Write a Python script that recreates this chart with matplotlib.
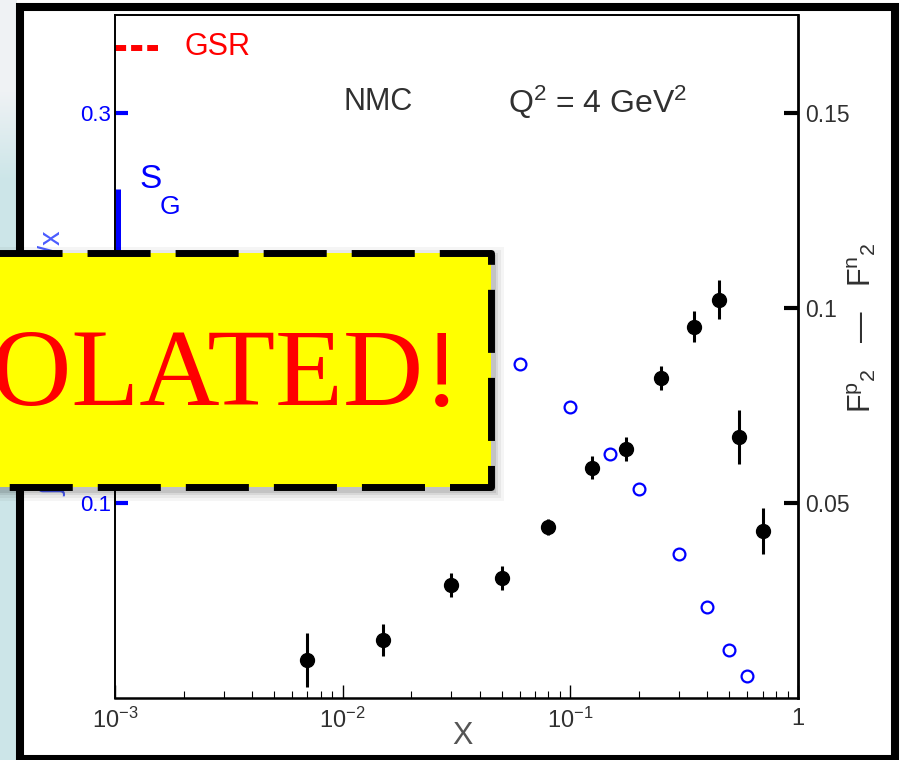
import numpy as np
import matplotlib
matplotlib.use("Agg")
import matplotlib.pyplot as plt
from matplotlib.patches import Rectangle
from matplotlib.lines import Line2D
from matplotlib.ticker import FixedLocator, FixedFormatter, LogLocator, NullFormatter

plt.rcParams['font.family'] = ['Liberation Sans', 'DejaVu Sans']
plt.rcParams['mathtext.fontset'] = 'custom'
plt.rcParams['mathtext.rm'] = 'Liberation Sans'
plt.rcParams['mathtext.it'] = 'Liberation Sans:italic'
plt.rcParams['mathtext.bf'] = 'Liberation Sans:bold'
plt.rcParams['lines.scale_dashes'] = False

# NMC F2p - F2n at Q^2 = 4 GeV^2
x_nmc = [0.007, 0.015, 0.030, 0.050, 0.080, 0.125, 0.175, 0.25, 0.35, 0.45, 0.55, 0.70]
d_f2 = [0.0097, 0.0149, 0.0290, 0.0308, 0.0438, 0.0590, 0.0638, 0.0820, 0.0951, 0.1020, 0.0669, 0.0428]
d_f2_err = [0.0069, 0.0041, 0.0030, 0.0030, 0.0020, 0.0030, 0.0030, 0.0030, 0.0040, 0.0050, 0.0070, 0.0060]

# integral of (F2p - F2n)/x from x to 1
x_int = [0.06, 0.10, 0.15, 0.20, 0.30, 0.40, 0.50, 0.60]
s_int = [0.171, 0.149, 0.125, 0.107, 0.0738, 0.0467, 0.0246, 0.0113]

gsr = 1.0 / 3.0
s_g, s_g_err = 0.235, 0.026

x_ticks = [1e-3, 1e-2, 1e-1, 1]
x_labels = [r'$10^{-3}$', r'$10^{-2}$', r'$10^{-1}$', r'$1$']
left_ticks = [0.1, 0.2, 0.3]
right_ticks = [0.05, 0.1, 0.15]

W, H = 901, 760
BLUE = '#0000ff'
INK = '#303030'


def fx(px):
    return px / W


def fy(py):
    return 1 - py / H


fig = plt.figure(figsize=(W / 100, H / 100), dpi=100, facecolor='white')

# pale backdrop strip on the far left
bg = fig.add_axes([0, 0, 17 / W, 1])
rows = np.arange(H)
t = np.clip((rows - 90) / 90.0, 0, 1)[:, None]
top_c = np.array([0.94, 0.95, 0.96])
low_c = np.array([0.80, 0.90, 0.91])
grad = (top_c * (1 - t) + low_c * t)[:, None, :]
bg.imshow(grad, aspect='auto', extent=[0, 1, 0, 1])
bg.set_axis_off()

ax = fig.add_axes([fx(115), fy(698), fx(798 - 115), (698 - 15) / H])
ax.set_xscale('log')
ax.set_xlim(1e-3, 1)
ax.set_ylim(0, 0.35)
ax2 = ax.twinx()
ax2.set_ylim(0, 0.175)

ax.plot(x_int, s_int, 'o', mfc='none', mec=BLUE, ms=8.5, mew=1.6, zorder=3)
ax2.errorbar(x_nmc, d_f2, yerr=d_f2_err, fmt='o', color='black', ms=10,
             elinewidth=2.2, capsize=0, zorder=4)

# sum-rule markers on the left axis
ax.plot([1e-3, 1.55e-3], [gsr, gsr], color='red', lw=4.3,
        linestyle=(0, (8, 3.6)), clip_on=False, solid_capstyle='butt')
ax.plot([1.03e-3, 1.03e-3], [s_g - s_g_err, s_g + s_g_err], color=BLUE,
        lw=3.6, clip_on=False, solid_capstyle='butt')

for side in ['left', 'top', 'bottom']:
    ax2.spines[side].set_visible(False)
ax.spines['right'].set_visible(False)
ax.spines['left'].set_linewidth(1.4)
ax.spines['top'].set_linewidth(1.4)
ax.spines['bottom'].set_linewidth(1.8)
ax2.spines['right'].set_linewidth(2.0)

ax.xaxis.set_major_locator(FixedLocator(x_ticks))
ax.xaxis.set_major_formatter(FixedFormatter(x_labels))
ax.xaxis.set_minor_locator(LogLocator(base=10, subs=np.arange(2, 10)))
ax.xaxis.set_minor_formatter(NullFormatter())
ax.tick_params(axis='x', which='major', direction='in', length=9.4, width=1.0,
               labelsize=17, pad=7, labelcolor=INK)
ax.tick_params(axis='x', which='minor', direction='in', length=5, width=0.8)

ax.set_yticks(left_ticks)
ax.set_yticklabels(['0.1', '0.2', '0.3'])
ax.tick_params(axis='y', direction='in', length=9.4, width=3, color=BLUE,
               labelcolor=BLUE, labelsize=16, pad=3)
ax2.set_yticks(right_ticks)
ax2.set_yticklabels(['0.05', '0.1', '0.15'])
ax2.tick_params(axis='y', direction='in', length=10, width=3, color='black',
                labelcolor=INK, labelsize=16.5, pad=5)

fig.text(fx(185), fy(47), 'GSR', color='red', fontsize=22, ha='left', va='center')
fig.text(fx(151), fy(180), 'S', color=BLUE, fontsize=24, ha='center', va='center')
fig.text(fx(170), fy(207), 'G', color=BLUE, fontsize=19, ha='center', va='center')
fig.text(fx(378), fy(102), 'NMC', color=INK, fontsize=22, ha='center', va='center')
fig.text(fx(598), fy(102), r'Q$^2$ = 4 GeV$^2$', color=INK, fontsize=23,
         ha='center', va='center')
fig.text(fx(462), fy(736), 'X', color='#555555', fontsize=22, ha='center', va='center')
fig.text(fx(862), fy(328), r'F$^{\rm p}{}_{2}$   —   F$^{\rm n}{}_{2}$', color=INK,
         fontsize=22, rotation=90, ha='center', va='center')
fig.text(fx(53), fy(362), r'$\int$  ( F$^{\rm p}{}_{2}$  $-$  F$^{\rm n}{}_{2}$ )  dx/x',
         color='#4a5cff', fontsize=21, rotation=90, ha='center', va='center')

# overlay in pixel coordinates: outer frame and the stamp, above all other text
ov = fig.add_axes([0, 0, 1, 1], facecolor='none')
ov.set_zorder(10)
ov.set_xlim(0, W)
ov.set_ylim(H, 0)
ov.set_axis_off()

ov.add_patch(Rectangle((20, 7), 875, 752, fill=False, edgecolor='black', lw=5.8))

for g, a in [(10, 0.04), (7, 0.05), (4, 0.07), (2, 0.09)]:
    ov.add_patch(Rectangle((-60, 253 - g + 4), 551 + g + 3, 234 + 2 * g,
                           facecolor='black', edgecolor='none', alpha=a))
ov.add_patch(Rectangle((-60, 253), 551, 234, facecolor='#ffff00', edgecolor='none'))
ov.add_line(Line2D([-45, 491, 491, -60], [253, 253, 487, 487], color='black',
                   lw=5.0, linestyle=(0, (45.4, 18)), solid_capstyle='butt'))
ov.text(461, 405, 'VIOLATED!', color='red', fontsize=80, family='Liberation Serif',
        ha='right', va='baseline')

fig.savefig('out.png', dpi=100)
